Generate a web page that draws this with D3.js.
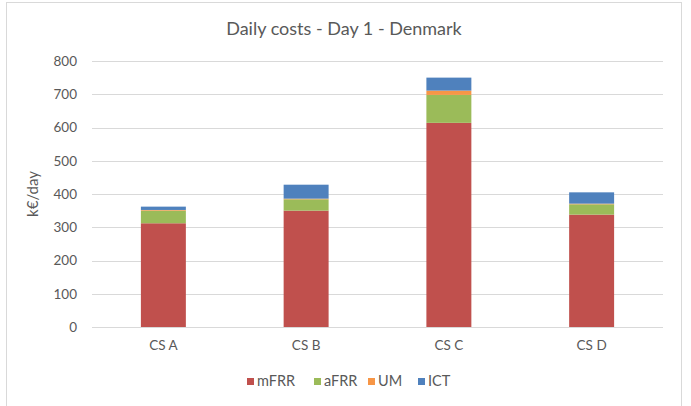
<!DOCTYPE html>
<html><head><meta charset="utf-8">
<script src="https://cdn.jsdelivr.net/npm/d3@7"></script>
<style>body{margin:0;background:#fff;} svg{display:block;font-family:Lato,"Open Sans",sans-serif;}</style>
</head><body>
<svg id="c" width="691" height="406"></svg>
<script>
const categories = ["CS A", "CS B", "CS C", "CS D"];
const seriesNames = ["mFRR", "aFRR", "UM", "ICT"];
const mFRR = [312, 350, 614, 338];
const aFRR = [38, 34, 84, 31];
const UM = [2, 2, 13, 2];
const ICT = [10, 42, 39, 34];
const yTicks = [0, 100, 200, 300, 400, 500, 600, 700, 800];
const colors = ["#C0504D", "#9BBB59", "#F79646", "#4F81BD"];

(function () {
const seriesVals = [mFRR, aFRR, UM, ICT];
const rows = categories.map((c, i) => {
  const r = {cat: c};
  seriesNames.forEach((s, j) => r[s] = seriesVals[j][i]);
  return r;
});

const svg = d3.select("#c");
svg.append("rect").attr("x", 6.5).attr("y", 2.5).attr("width", 675).attr("height", 420)
  .attr("fill", "#fff").attr("stroke", "#d9d9d9").attr("stroke-width", 1);

const pL = 92, pR = 663, pT = 61, pB = 327;
const x = d3.scaleBand().domain(categories).range([pL, pR]).paddingInner(0.685).paddingOuter(0.3425);
const y = d3.scaleLinear().domain([0, 800]).range([pB, pT]);

svg.append("g").selectAll("line").data(yTicks).join("line")
  .attr("x1", pL).attr("x2", pR)
  .attr("y1", d => Math.round(y(d)) + 0.5).attr("y2", d => Math.round(y(d)) + 0.5)
  .attr("stroke", "#d9d9d9").attr("stroke-width", 1);

const yAxis = d3.axisLeft(y).tickValues(yTicks).tickSize(0).tickPadding(0);
const gy = svg.append("g").attr("transform", `translate(77,0)`).call(yAxis);
gy.select(".domain").remove();
gy.selectAll("text").attr("fill", "#595959").style("font-size", "13.5px").style("font-family", "Lato,'Open Sans',sans-serif");

const xAxis = d3.axisBottom(x).tickSize(0).tickPadding(0);
const gx = svg.append("g").attr("transform", `translate(0,${pB + 13})`).call(xAxis);
gx.select(".domain").remove();
gx.selectAll("text").attr("fill", "#595959").style("font-size", "13.5px").style("font-family", "Lato,'Open Sans',sans-serif");

const stack = d3.stack().keys(seriesNames)(rows);
svg.append("g").selectAll("g").data(stack).join("g")
  .attr("fill", (d, i) => colors[i])
  .selectAll("rect").data(d => d).join("rect")
  .attr("x", d => x(d.data.cat)).attr("width", x.bandwidth())
  .attr("y", d => y(d[1])).attr("height", d => y(d[0]) - y(d[1]));

svg.append("text").attr("x", 344).attr("y", 35).attr("text-anchor", "middle")
  .attr("fill", "#595959").style("font-size", "18px").text("Daily costs - Day 1 - Denmark");

svg.append("text").attr("transform", "translate(38,194) rotate(-90)").attr("text-anchor", "middle")
  .attr("fill", "#595959").style("font-size", "15px").text("k€/day");

const legX = [247, 314, 368, 418];
const lg = svg.append("g").selectAll("g").data(seriesNames).join("g")
  .attr("transform", (d, i) => `translate(${legX[i]},378)`);
lg.append("rect").attr("x", 0).attr("y", 0).attr("width", 7).attr("height", 7).attr("fill", (d, i) => colors[i]);
lg.append("text").attr("x", 10).attr("y", 8).attr("fill", "#595959").style("font-size", "14.5px").text(d => d);
})();
</script>
</body></html>
